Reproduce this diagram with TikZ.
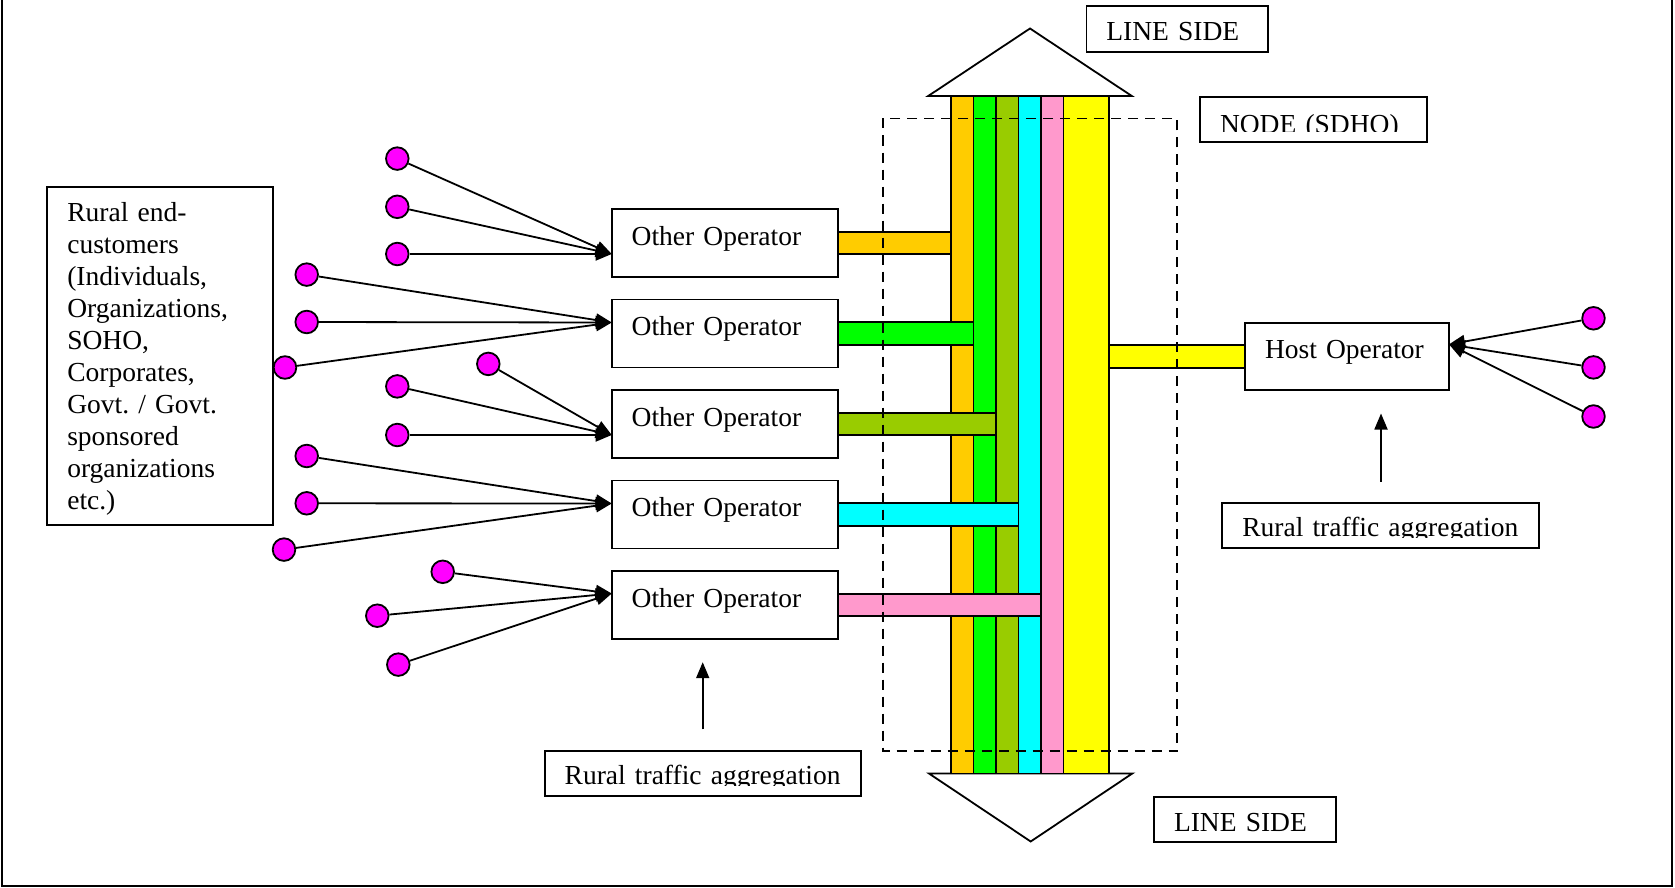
\documentclass[tikz,border=0pt]{standalone}
\usepackage{fontspec}
\setmainfont{Liberation Serif}
\usetikzlibrary{arrows.meta}
\frenchspacing
\definecolor{barorange}{HTML}{FFCC00}
\definecolor{bargreen}{HTML}{00FF00}
\definecolor{barolive}{HTML}{99CC00}
\definecolor{barcyan}{HTML}{00FFFF}
\definecolor{barpink}{HTML}{FF99CC}
\definecolor{baryellow}{HTML}{FFFF00}
\definecolor{dotmagenta}{HTML}{FF00FF}
\begin{document}
\begin{tikzpicture}[x=1pt, y=-1pt, line width=1.8pt, font=\fontsize{27.5}{32}\selectfont,
    >={Triangle[length=16pt,width=13pt]},
    box/.style = {draw, anchor=north west, align=left, inner xsep=20pt, inner ysep=0pt, outer sep=0pt},
    op/.style = {box, text width=186.6pt, text height=36.3pt, text depth=31.7pt},
    bar/.style = {draw, anchor=north west, inner sep=0pt, outer sep=0pt, minimum height=677.5pt},
    dot/.style = {draw, circle, fill=dotmagenta, minimum size=22.6pt, inner sep=0pt}]
    \useasboundingbox (0,0) rectangle (1675,888);
    \draw[line width=2pt] (1.5,0) -- (1.5,885.5) -- (1671.5,885.5) -- (1671.5,0);
    %line side arrows
    \filldraw[fill=white] (928.2,96) -- (1131.8,96) -- (1030,28.5) -- cycle;
    \filldraw[fill=white] (929,773.5) -- (1132.3,773.5) -- (1030.7,841.5) -- cycle;
    \node[bar, fill=barorange, minimum width=22.5pt] (b1) at (951,96) {};
    \node[bar, fill=bargreen, minimum width=22.5pt] (b2) at (973.5,96) {};
    \node[bar, fill=barolive, minimum width=22.5pt] (b3) at (996,96) {};
    \node[bar, fill=barcyan, minimum width=22.5pt] (b4) at (1018.5,96) {};
    \node[bar, fill=barpink, minimum width=22.5pt] (b5) at (1041,96) {};
    \node[bar, fill=baryellow, minimum width=45.1pt] (b6) at (1063.5,96) {};
    %operators
    \node[op] (1) at (611.7,209) {Other Operator};
    \node[op] (2) at (611.7,299.5) {Other Operator};
    \node[op] (3) at (611.7,390) {Other Operator};
    \node[op] (4) at (611.7,480.5) {Other Operator};
    \node[op] (5) at (611.7,571) {Other Operator};
    \node[box, text width=164pt, text height=35.6pt, text depth=31.7pt] (6) at (1245,322.7) {Host Operator};
    \filldraw[fill=barorange] ([yshift=11.3pt]1.east) rectangle ([yshift=-11.3pt]1.east -| b1.west);
    \filldraw[fill=bargreen] ([yshift=11.3pt]2.east) rectangle ([yshift=-11.3pt]2.east -| b2.west);
    \filldraw[fill=barolive] ([yshift=11.3pt]3.east) rectangle ([yshift=-11.3pt]3.east -| b3.west);
    \filldraw[fill=barcyan] ([yshift=11.3pt]4.east) rectangle ([yshift=-11.3pt]4.east -| b4.west);
    \filldraw[fill=barpink] ([yshift=11.3pt]5.east) rectangle ([yshift=-11.3pt]5.east -| b5.west);
    \filldraw[fill=baryellow] ([yshift=11.5pt]6.west -| b6.east) rectangle ([yshift=-11.5pt]6.west);
    \draw[dash pattern=on 10pt off 7pt] (883,118.5) rectangle (1177,751);
    %labels
    \node[box, text width=186pt, text height=34.5pt, text depth=303.5pt] (cust) at (47.3,187)
        {Rural end-\\customers\\(Individuals,\\Organizations,\\SOHO,\\Corporates,\\Govt. / Govt.\\sponsored\\organizations\\etc.)};
    \node[box, text width=141.8pt, text height=35pt, text depth=11.3pt] (ls1) at (1086.4,5.7) {LINE SIDE};
    \node[box, text width=141.7pt, text height=35pt, text depth=10.6pt] (ls2) at (1154,796.7) {LINE SIDE};
    \node[box, text width=186.7pt, text height=36.5pt, text depth=8.5pt] (sdho) at (1200,96.7) {NODE (SDHO)};
    \node[box, text width=276.7pt, text height=33.2pt, text depth=11.8pt] (agg2) at (1222.3,503.3) {Rural traffic aggregation};
    \node[box, text width=276pt, text height=34pt, text depth=11pt] (agg1) at (544.7,750.8) {Rural traffic aggregation};
    \fill[white] ([shift={(1pt,1pt)}]sdho.south west) rectangle ([shift={(-1pt,10pt)}]sdho.south east);
    \fill[white] ([shift={(1pt,1pt)}]agg2.south west) rectangle ([shift={(-1pt,10.5pt)}]agg2.south east);
    \fill[white] ([shift={(1pt,1pt)}]agg1.south west) rectangle ([shift={(-1pt,9.5pt)}]agg1.south east);
    \coordinate (a1) at (702.7,729.4);
    \coordinate (a2) at (702.7,662.2);
    \coordinate (a3) at (1381,481.5);
    \coordinate (a4) at (1381,413.5);
    \draw[->] (a1) -- (a2);
    \draw[->] (a3) -- (a4);
    %end customers
    \node[dot] (11) at (397.3,158.6) {};
    \node[dot] (12) at (397.3,206.8) {};
    \node[dot] (13) at (397.3,254) {};
    \node[dot] (21) at (306.7,274.6) {};
    \node[dot] (22) at (306.7,322) {};
    \node[dot] (23) at (285,367.5) {};
    \node[dot] (31) at (488.3,363.9) {};
    \node[dot] (32) at (397.3,386.4) {};
    \node[dot] (33) at (397.3,435) {};
    \node[dot] (41) at (306.7,456) {};
    \node[dot] (42) at (306.7,503.3) {};
    \node[dot] (43) at (284,549.6) {};
    \node[dot] (51) at (442.7,571.8) {};
    \node[dot] (52) at (377.3,615.7) {};
    \node[dot] (53) at (398.3,664.6) {};
    \node[dot] (61) at (1593.5,318.3) {};
    \node[dot] (62) at (1593.5,367.4) {};
    \node[dot] (63) at (1593.5,416.5) {};
    \draw[->] (11) -- ([yshift=-11pt]1.west);
    \draw[->] (12) -- ([yshift=-11pt]1.west);
    \draw[->] (13) -- ([yshift=-11pt]1.west);
    \draw[->] (21) -- ([yshift=11pt]2.west);
    \draw[->] (22) -- ([yshift=11pt]2.west);
    \draw[->] (23) -- ([yshift=11pt]2.west);
    \draw[->] (31) -- ([yshift=-11pt]3.west);
    \draw[->] (32) -- ([yshift=-11pt]3.west);
    \draw[->] (33) -- ([yshift=-11pt]3.west);
    \draw[->] (41) -- ([yshift=11pt]4.west);
    \draw[->] (42) -- ([yshift=11pt]4.west);
    \draw[->] (43) -- ([yshift=11pt]4.west);
    \draw[->] (51) -- ([yshift=11.5pt]5.west);
    \draw[->] (52) -- ([yshift=11.5pt]5.west);
    \draw[->] (53) -- ([yshift=11.5pt]5.west);
    \draw[->] (61) -- ([yshift=12pt]6.east);
    \draw[->] (62) -- ([yshift=12pt]6.east);
    \draw[->] (63) -- ([yshift=12pt]6.east);
\end{tikzpicture}
\end{document}
